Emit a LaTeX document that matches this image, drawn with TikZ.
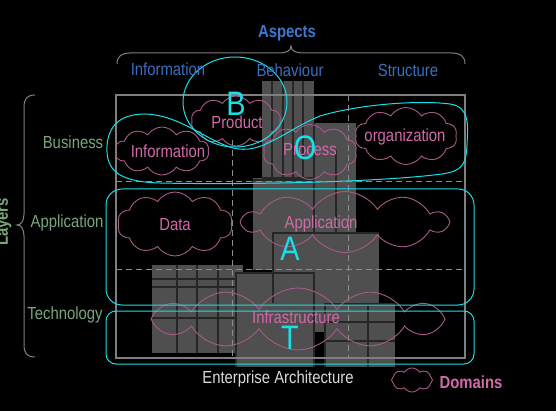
\documentclass[tikz,border=0pt]{standalone}
\usepackage{fontspec}
\usetikzlibrary{shapes.symbols,shapes.geometric}
\newfontfamily\nf{Liberation Sans}[FakeStretch=0.85]
\definecolor{colblue}{HTML}{3A6EBF}
\definecolor{aspblue}{HTML}{3B78D0}
\definecolor{rowgreen}{HTML}{7BA67B}
\definecolor{cloudline}{HTML}{A85A88}
\definecolor{cloudtext}{HTML}{D26AA8}
\definecolor{bldg}{HTML}{4F4F4F}
\definecolor{framegray}{HTML}{7F7F7F}
\definecolor{dashgray}{HTML}{8C8C8C}
\definecolor{cyanc}{HTML}{17E0E8}
\definecolor{eatext}{HTML}{D9D9D9}
\begin{document}
\begin{tikzpicture}[x=1pt,y=-1pt,
  txt/.style={inner sep=0pt, font=\nf\fontsize{17.5}{20}\selectfont},
  colhead/.style={txt, text=colblue},
  rowhead/.style={txt, text=rowgreen},
  cloudlabel/.style={txt, text=cloudtext},
  dom/.style={cloud, draw=cloudline, line width=0.9pt, cloud puffs=10, cloud puff arc=115, cloud ignores aspect, inner sep=0pt},
  bigletter/.style={inner sep=0pt, text=cyanc, font=\nf\fontsize{34}{34}\selectfont},
  cyanline/.style={draw=cyanc, line width=1pt},
  bline/.style={draw=black!85, line width=1.2pt},
  brace/.style={draw=framegray, line width=1pt}
]
\useasboundingbox (0,0) rectangle (556,411);
\fill[black] (0,0) rectangle (556,411);

% ---------- building blocks ----------
\fill[bldg] (262,81) rectangle (314,181);
\fill[bldg] (314,123) rectangle (356,233);
\fill[bldg] (253,178) rectangle (314,270);
\fill[bldg] (273,233) rectangle (379,303);
\fill[bldg] (152,265) rectangle (236,353);
\fill[bldg] (236,265) rectangle (243,272);
\fill[bldg] (236,273) rectangle (314,367);
\fill[bldg] (314,303) rectangle (325,332);
\fill[bldg] (325,304) rectangle (395,367);
% building lines
\foreach \xx in {272,283,293,303} \draw[bline] (\xx,81) -- (\xx,178);
\draw[bline] (262,178) -- (314,178);
\draw[bline] (253,180) -- (314,180);
\draw[bline] (314,123) -- (314,233);
\draw[bline] (336,150) -- (336,233);
\draw[bline] (273,303) -- (273,233) -- (379,233);
\foreach \xx in {177,197,218} \draw[bline] (\xx,265) -- (\xx,353);
\foreach \yy in {279,287,318} \draw[bline] (152,\yy) -- (236,\yy);
\draw[bline] (236,367) -- (236,273) -- (314,273) -- (314,367);
\draw[bline] (325,367) -- (325,304) -- (395,304);
\draw[bline] (368,304) -- (368,367);
\foreach \yy in {322,341} \draw[bline] (325,\yy) -- (395,\yy);

% ---------- frame ----------
\draw[framegray, line width=1.2pt] (116,95) rectangle (465,358);
\draw[dashgray, line width=1pt, dash pattern=on 6pt off 4pt] (116,182) -- (465,182);
\draw[dashgray, line width=1pt, dash pattern=on 6pt off 4pt] (116,270) -- (465,270);
\draw[dashgray, line width=1pt, dash pattern=on 6pt off 4pt] (232,140) -- (232,358);
\draw[dashgray, line width=1pt, dash pattern=on 6pt off 4pt] (348,95) -- (348,358);

% ---------- braces ----------
\draw[brace] (117,64) .. controls (117,56) and (122,53) .. (130,53) -- (279,53)
  .. controls (286,53) and (291,51) .. (291,46) .. controls (291,51) and (296,53) .. (303,53)
  -- (452,53) .. controls (460,53) and (465,56) .. (465,64);
\draw[brace] (35,95) .. controls (27,95) and (24,99) .. (24,107) -- (24,214)
  .. controls (24,221) and (21,225) .. (17,225) .. controls (21,225) and (24,229) .. (24,236)
  -- (24,345) .. controls (24,353) and (27,357) .. (35,357);

% ---------- clouds ----------
\node[dom, minimum width=90, minimum height=50] (cProduct) at (236,121) {};
\node[dom, minimum width=94, minimum height=48] (cInfo) at (162,151) {};
\node[dom, minimum width=94, minimum height=55] (cProcess) at (310,152) {};
\node[dom, minimum width=102, minimum height=57] (cOrg) at (406,136) {};
\node[dom, minimum width=115, minimum height=64] (cData) at (175,224) {};
\node[dom, minimum width=204, minimum height=61] (cApp) at (345,222) {};
\node[dom, cloud puffs=12, minimum width=294, minimum height=62] (cInfra) at (298,319) {};
\node[dom, cloud puffs=8, minimum width=41, minimum height=24] (cLegend) at (412,380) {};

\node[cloudlabel] (lProduct) at (237,122) {Product};
\node[cloudlabel] (lInfo) at (168,151) {Information};
\node[cloudlabel] (lProcess) at (310,150) {Process};
\node[cloudlabel] (lOrg) at (405,137) {organization};
\node[cloudlabel] (lData) at (175,225) {Data};
\node[cloudlabel] (lApp) at (321,224) {Application};
\node[cloudlabel] (lInfra) at (296,317) {Infrastructure};
\node[txt, text=cloudtext, font=\nf\bfseries\fontsize{17.5}{20}\selectfont] (lDomains) at (471,382) {Domains};

% ---------- cyan shapes ----------
\node[ellipse, cyanline, minimum width=104, minimum height=90, inner sep=0pt] (Bcirc) at (235,102) {};
\draw[cyanline] (107,152) .. controls (106,128) and (118,114) .. (145,114)
  .. controls (180,115) and (205,140) .. (233,148)
  .. controls (262,155) and (282,132) .. (320,116)
  .. controls (360,104) and (420,100) .. (450,104)
  .. controls (470,107) and (468,125) .. (467,145)
  .. controls (466,165) and (462,171) .. (442,174)
  .. controls (380,182) and (250,185) .. (160,183)
  .. controls (122,182) and (108,172) .. (107,152) -- cycle;
\draw[cyanline, rounded corners=16pt] (106,189) rectangle (474,305);
\draw[cyanline, rounded corners=10pt] (106,311) rectangle (474,364);

\node[bigletter] (B) at (236,104) {B};
\node[bigletter] (O) at (305,148) {O};
\node[bigletter] (A) at (290,249) {A};
\node[bigletter] (T) at (290,338) {T};

% ---------- headings ----------
\node[txt, text=aspblue, font=\nf\bfseries\fontsize{17.5}{20}\selectfont] (aspects) at (287,33) {Aspects};
\node[colhead] (hInfo) at (168,69) {Information};
\node[colhead] (hBeh) at (290,70) {Behaviour};
\node[colhead] (hStr) at (408,70) {Structure};
\node[rowhead] (rBus) at (73,142) {Business};
\node[rowhead] (rApp) at (67,223) {Application};
\node[rowhead] (rTech) at (65,315) {Technology};
\node[txt, text=rowgreen, font=\nf\bfseries\fontsize{17.5}{20}\selectfont, rotate=90, anchor=base] (layers) at (8,222) {Layers};
\node[txt, text=eatext] (ea) at (278,379) {Enterprise Architecture};
\end{tikzpicture}
\end{document}
